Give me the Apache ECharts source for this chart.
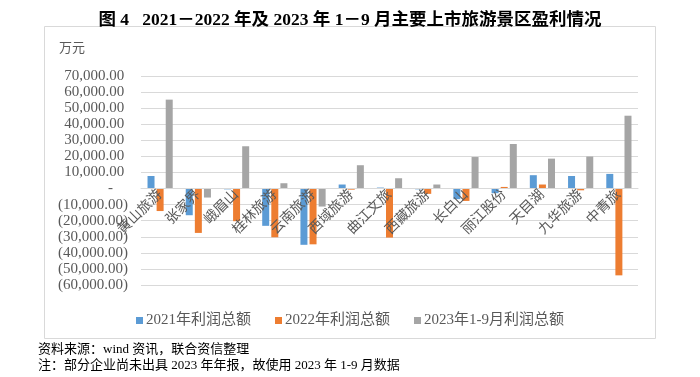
<!DOCTYPE html>
<html>
<head>
<meta charset="utf-8" />
<script src="https://cdn.jsdelivr.net/npm/echarts@6/dist/echarts.min.js"></script>
<style>
  html, body { margin: 0; padding: 0; background: #fff; }
  #chart { width: 700px; height: 377px; }
</style>
</head>
<body>
<div id="chart"></div>
<script>
// 景区名称
const categories = ["黄山旅游", "张家界", "峨眉山", "桂林旅游", "云南旅游", "西域旅游", "曲江文旅", "西藏旅游", "长白山", "丽江股份", "天目湖", "九华旅游", "中青旅"];
// 利润总额（万元）
const profit2021 = [7800, -16600, -500, -23200, -35000, 2500, 600, -500, -6600, -2900, 8300, 7800, 9100];
const profit2022 = [-14000, -27600, -20300, -30300, -34700, -700, -30500, -3300, -7700, 1000, 2500, -1100, -54000];
const profit2023 = [55300, -5600, 26300, 3300, -11200, 14500, 6400, 2500, 19600, 27700, 18600, 19900, 45300];
const seriesNames = ["2021年利润总额", "2022年利润总额", "2023年1-9月利润总额"];

const serif = '"Liberation Serif", "Noto Sans CJK SC", serif';

const myChart = echarts.init(document.getElementById("chart"));

// Excel 会计格式：正数后留空，负数加括号，零显示 "-"
function fmt(v) {
  if (v === 0) return "-    ";
  const s = Math.abs(v).toLocaleString("en-US", { minimumFractionDigits: 2, maximumFractionDigits: 2 });
  return v < 0 ? "(" + s + ")" : s + " ";
}

const colors = ["#5B9BD5", "#ED7D31", "#A5A5A5"];
const dataList = [profit2021, profit2022, profit2023];

const yMin = -60000;
const yMax = 70000;
const gridTop = 76;
const gridBottom = 92;
// 分类轴放在零线上（标签跟随零线）
const plotH = 377 - gridTop - gridBottom;
const zeroOffset = -plotH * (0 - yMin) / (yMax - yMin);

const option = {
  animation: false,
  title: {
    text: "图 4   2021－2022 年及 2023 年 1－9 月主要上市旅游景区盈利情况",
    left: "center",
    top: 7,
    textStyle: { fontFamily: serif, fontSize: 17.5, fontWeight: "bold", color: "#000" },
  },
  graphic: [
    {
      type: "rect",
      shape: { x: 44.5, y: 26.5, width: 611, height: 312 },
      style: { fill: "none", stroke: "#d9d9d9", lineWidth: 1 },
      silent: true,
    },
    {
      type: "text",
      left: 59,
      top: 42,
      style: { text: "万元", fill: "#595959", font: '13px ' + serif },
    },
    {
      type: "text",
      left: 38,
      top: 343,
      style: { text: "资料来源：wind 资讯，联合资信整理", fill: "#000", font: '13px ' + serif },
    },
    {
      type: "text",
      left: 38,
      top: 359,
      style: { text: "注：部分企业尚未出具 2023 年年报，故使用 2023 年 1-9 月数据", fill: "#000", font: '13px ' + serif },
    },
  ],
  legend: {
    data: seriesNames,
    left: "center",
    top: 308,
    itemWidth: 7,
    itemHeight: 7,
    itemGap: 24,
    icon: "rect",
    textStyle: { fontFamily: serif, fontSize: 15, color: "#595959", padding: [0, 0, 0, -2] },
  },
  grid: { left: 141, right: 62, top: gridTop, bottom: gridBottom, containLabel: false },
  xAxis: {
    type: "category",
    data: categories,
    z: 5,
    position: "bottom",
    offset: zeroOffset,
    axisLine: { onZero: false, lineStyle: { color: "#d9d9d9" } },
    axisTick: { show: false },
    axisLabel: {
      rotate: 45,
      interval: 0,
      margin: 4,
      fontFamily: serif,
      fontSize: 14,
      color: "#595959",
    },
  },
  yAxis: {
    type: "value",
    min: yMin,
    max: yMax,
    interval: 10000,
    axisLine: { show: false },
    axisTick: { show: false },
    splitLine: { lineStyle: { color: "#d9d9d9", width: 1 } },
    axisLabel: {
      formatter: fmt,
      margin: 13,
      fontFamily: serif,
      fontSize: 15,
      color: "#595959",
    },
  },
  series: seriesNames.map((name, i) => ({
    name: name,
    type: "bar",
    data: dataList[i],
    barWidth: 7,
    barGap: "30%",
    itemStyle: { color: colors[i] },
  })),
};

myChart.setOption(option, true);
</script>
</body>
</html>
